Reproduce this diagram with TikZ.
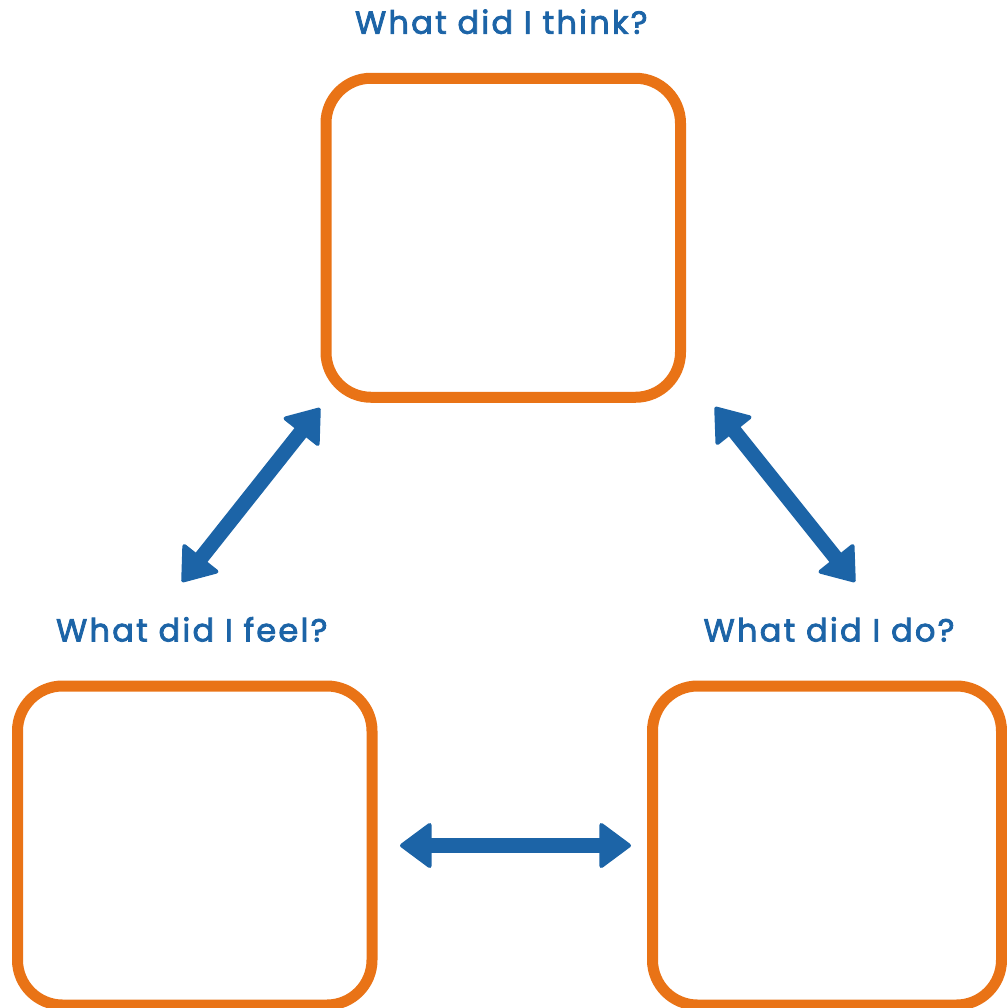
\documentclass[tikz,border=0pt]{standalone}
\usepackage{fontspec}
\setmainfont{Poppins}
\newfontfamily\askfont{Poppins}[LetterSpace=7, FakeBold=2.5]
\usetikzlibrary{arrows.meta, positioning}
\definecolor{boxorange}{HTML}{E97316}
\definecolor{askblue}{HTML}{1C64A7}

\begin{document}
\begin{tikzpicture}[
  x=0.5pt, y=-0.5pt,
  panel/.style={rectangle, rounded corners=22.5pt, draw=boxorange, line width=5.5pt, minimum width=177.25pt, minimum height=159.5pt},
  question/.style={anchor=base, text=askblue, font=\askfont\fontsize{16}{19}\selectfont},
  link/.style={draw=askblue, line width=7.5pt, {Triangle[length=16.5pt, width=24pt, round, line width=2pt 0]}-{Triangle[length=16.5pt, width=24pt, round, line width=2pt 0]}}
]
\useasboundingbox (0,0) rectangle (1007,1008);

% Boxes
\node[panel] (think) at (503.25,237.75) {};
\node[panel] (feel) at (194.75,845.5) {};
\node[panel, minimum width=174.5pt] (do) at (827,845.5) {};

% Questions
\node[question] (thinkq) at ([xshift=-1pt, yshift=19.5pt]think.north) {What did I think?};
\node[question] (feelq) at ([xshift=-1.5pt, yshift=19.5pt]feel.north) {What did I feel?};
\node[question] (doq) at ([xshift=1pt, yshift=19.5pt]do.north) {What did I do?};

% Free ends of the slanted arrows
\coordinate (thinkleft) at (320,408);
\coordinate (feelup) at (182,582);
\coordinate (thinkright) at (715,407);
\coordinate (doup) at (855,582);

% Arrows
\draw[link] (thinkleft) -- (feelup);
\draw[link] (thinkright) -- (doup);
\draw[link, shorten <=11.25pt, shorten >=8pt] (feel.east) -- (do.west);

\end{tikzpicture}
\end{document}
